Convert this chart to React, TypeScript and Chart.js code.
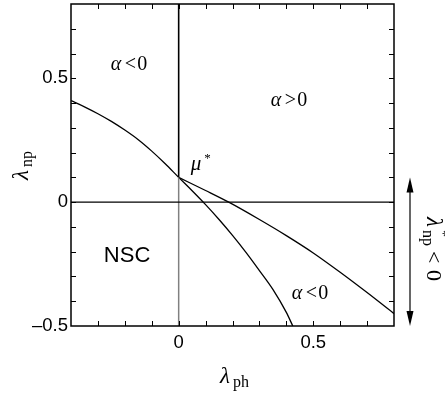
import React, { useEffect, useRef } from "react";
import { Chart, registerables } from "chart.js";

Chart.register(...registerables);

// ---- data ----
const xMin = -0.4;
const xMax = 0.8;
const yMin = -0.5;
const yMax = 0.8;

const xLabelValues = [0, 0.5];
const yLabelValues = [-0.5, 0, 0.5];
const xMinorTicks = [-0.3, -0.2, -0.1, 0, 0.1, 0.2, 0.3, 0.4, 0.5, 0.6, 0.7];
const yMinorTicks = [-0.4, -0.3, -0.2, -0.1, 0, 0.1, 0.2, 0.3, 0.4, 0.5, 0.6, 0.7];

// boundary curve through mu* (left branch + steep branch)
const curveAX = [-0.4, -0.35, -0.3, -0.25, -0.2, -0.15, -0.1, -0.05, 0, 0.05, 0.1, 0.15, 0.2, 0.25, 0.3, 0.35, 0.4, 0.424];
const curveAY = [0.41, 0.385, 0.357, 0.326, 0.291, 0.252, 0.206, 0.155, 0.1, 0.046, -0.01, -0.07, -0.134, -0.2025, -0.276, -0.352, -0.445, -0.5];

// shallow curve from mu*
const curveBX = [0, 0.1, 0.186, 0.3, 0.4, 0.5, 0.6, 0.7, 0.8];
const curveBY = [0.1, 0.047, 0, -0.07, -0.135, -0.205, -0.283, -0.365, -0.45];

const muStar = { x: 0, y: 0.1 };

const fmt = (v: number) => (v < 0 ? "\u2013" + String(Math.abs(v)) : String(v));

const SERIF = "'Liberation Serif', 'DejaVu Serif', serif";
const SANS = "'Liberation Sans', Arial, sans-serif";

type Seg = { t: string; font: string; dx: number; dy: number };

function drawSegs(ctx: CanvasRenderingContext2D, segs: Seg[]) {
  for (const s of segs) {
    ctx.font = s.font;
    ctx.fillText(s.t, s.dx, s.dy);
  }
}

const alphaLess: Seg[] = [
  { t: "\u03b1", font: `italic 20px ${SERIF}`, dx: 0, dy: 0 },
  { t: "<", font: `20px ${SERIF}`, dx: 14, dy: 0 },
  { t: "0", font: `20px ${SERIF}`, dx: 26.5, dy: 0 },
];
const alphaGreater: Seg[] = [
  { t: "\u03b1", font: `italic 20px ${SERIF}`, dx: 0, dy: 0 },
  { t: ">", font: `20px ${SERIF}`, dx: 14, dy: 0 },
  { t: "0", font: `20px ${SERIF}`, dx: 26.5, dy: 0 },
];

const annotations = [
  { x: -0.252, y: 0.535, segs: alphaLess },
  { x: 0.342, y: 0.387, segs: alphaGreater },
  { x: 0.42, y: -0.392, segs: alphaLess },
  { x: -0.278, y: -0.24, segs: [{ t: "NSC", font: `22px ${SANS}`, dx: 0, dy: 0 }] },
  {
    x: 0.045,
    y: 0.13,
    segs: [
      { t: "\u03bc", font: `italic 21px ${SERIF}`, dx: 0, dy: 0 },
      { t: "*", font: `13px ${SERIF}`, dx: 13.5, dy: -8 },
    ],
  },
];

const decorPlugin = {
  id: "decor",
  afterDraw(chart: any) {
    const ctx: CanvasRenderingContext2D = chart.ctx;
    const xs = chart.scales.x;
    const ys = chart.scales.y;
    const { left, right, top, bottom } = chart.chartArea;
    ctx.save();
    ctx.strokeStyle = "#000";
    ctx.fillStyle = "#000";
    // minor ticks, inward, all sides
    ctx.lineWidth = 1;
    const tl = 5;
    ctx.beginPath();
    for (const v of xMinorTicks) {
      const p = Math.round(xs.getPixelForValue(v)) + 0.5;
      ctx.moveTo(p, bottom);
      ctx.lineTo(p, bottom - tl);
      ctx.moveTo(p, top);
      ctx.lineTo(p, top + tl);
    }
    for (const v of yMinorTicks) {
      const p = Math.round(ys.getPixelForValue(v)) + 0.5;
      ctx.moveTo(left, p);
      ctx.lineTo(left + tl, p);
      ctx.moveTo(right, p);
      ctx.lineTo(right - tl, p);
    }
    ctx.stroke();
    // frame
    ctx.lineWidth = 1.5;
    ctx.strokeRect(left, top, right - left, bottom - top);

    // annotations
    ctx.textAlign = "left";
    ctx.textBaseline = "alphabetic";
    for (const a of annotations) {
      ctx.save();
      ctx.translate(xs.getPixelForValue(a.x), ys.getPixelForValue(a.y));
      drawSegs(ctx, a.segs);
      ctx.restore();
    }

    // x axis title
    ctx.save();
    ctx.translate(220, 383);
    drawSegs(ctx, [
      { t: "\u03bb", font: `italic 23px ${SERIF}`, dx: 0, dy: 0 },
      { t: "ph", font: `16px ${SERIF}`, dx: 13, dy: 4 },
    ]);
    ctx.restore();

    // y axis title (rotated)
    ctx.save();
    ctx.translate(28, 180);
    ctx.rotate(-Math.PI / 2);
    drawSegs(ctx, [
      { t: "\u03bb", font: `italic 23px ${SERIF}`, dx: 0, dy: 0 },
      { t: "np", font: `16px ${SERIF}`, dx: 13, dy: 4 },
    ]);
    ctx.restore();

    // right arrow
    const ax = 410;
    const aTop = ys.getPixelForValue(0.1);
    const aBot = bottom;
    ctx.lineWidth = 1.2;
    ctx.beginPath();
    ctx.moveTo(ax, aTop + 10);
    ctx.lineTo(ax, aBot - 10);
    ctx.stroke();
    ctx.beginPath();
    ctx.moveTo(ax, aTop);
    ctx.lineTo(ax - 3.5, aTop + 15);
    ctx.lineTo(ax + 3.5, aTop + 15);
    ctx.closePath();
    ctx.fill();
    ctx.beginPath();
    ctx.moveTo(ax, aBot);
    ctx.lineTo(ax - 3.5, aBot - 15);
    ctx.lineTo(ax + 3.5, aBot - 15);
    ctx.closePath();
    ctx.fill();

    // right label rotated clockwise
    ctx.save();
    ctx.translate(427, 217);
    ctx.rotate(Math.PI / 2);
    drawSegs(ctx, [
      { t: "\u03bb", font: `italic 23px ${SERIF}`, dx: 0, dy: 0 },
      { t: "*", font: `14px ${SERIF}`, dx: 13, dy: -11 },
      { t: "np", font: `16px ${SERIF}`, dx: 13, dy: 4 },
      { t: "<", font: `22px ${SERIF}`, dx: 34, dy: 0 },
      { t: "0", font: `22px ${SERIF}`, dx: 53, dy: 0 },
    ]);
    ctx.restore();

    ctx.restore();
  },
};

export default function App() {
  const ref = useRef<HTMLCanvasElement>(null);
  useEffect(() => {
    if (!ref.current) return;
    const toPts = (xs: number[], ys: number[]) => xs.map((x, i) => ({ x, y: ys[i] }));
    const line = (data: any[], color = "#000", width = 1.3, extra: any = {}) => ({
      data,
      showLine: true,
      borderColor: color,
      borderWidth: width,
      pointRadius: 0,
      fill: false,
      ...extra,
    });
    const chart = new Chart(ref.current, {
      type: "scatter",
      data: {
        datasets: [
          line([{ x: xMin, y: 0 }, { x: xMax, y: 0 }], "#000", 1.2),
          line([{ x: 0, y: yMin }, muStar], "#808080", 1.5),
          line([muStar, { x: 0, y: yMax }], "#000", 1.6),
          line(toPts(curveAX, curveAY), "#000", 1.3, { cubicInterpolationMode: "monotone" }),
          line(toPts(curveBX, curveBY), "#000", 1.3, { cubicInterpolationMode: "monotone" }),
        ] as any,
      },
      options: {
        animation: false,
        responsive: false,
        events: [],
        layout: { padding: { left: 0, top: 4, right: 51, bottom: 0 } },
        plugins: { legend: { display: false }, tooltip: { enabled: false }, title: { display: false } },
        scales: {
          x: {
            type: "linear",
            min: xMin,
            max: xMax,
            grid: { display: false, drawTicks: false },
            border: { display: false },
            afterFit: (s: any) => {
              s.height = 68;
              s.paddingLeft = 0;
              s.paddingRight = 0;
            },
            afterBuildTicks: (s: any) => {
              s.ticks = xLabelValues.map((v) => ({ value: v }));
            },
            ticks: {
              padding: 6,
              color: "#000",
              font: { family: SANS, size: 18.5 },
              callback: (v: any) => fmt(Number(v)),
              maxRotation: 0,
            },
          },
          y: {
            type: "linear",
            min: yMin,
            max: yMax,
            grid: { display: false, drawTicks: false },
            border: { display: false },
            afterFit: (s: any) => {
              s.width = 71;
              s.paddingTop = 0;
              s.paddingBottom = 0;
            },
            afterBuildTicks: (s: any) => {
              s.ticks = yLabelValues.map((v) => ({ value: v }));
            },
            ticks: {
              padding: 3,
              color: "#000",
              font: { family: SANS, size: 18.5 },
              callback: (v: any) => fmt(Number(v)),
            },
          },
        },
      },
      plugins: [decorPlugin],
    });
    return () => chart.destroy();
  }, []);
  return (
    <div style={{ position: "fixed", left: 0, top: 0, width: 445, height: 394, background: "#fff" }}>
      <canvas ref={ref} width={445} height={394} style={{ display: "block" }} />
    </div>
  );
}
